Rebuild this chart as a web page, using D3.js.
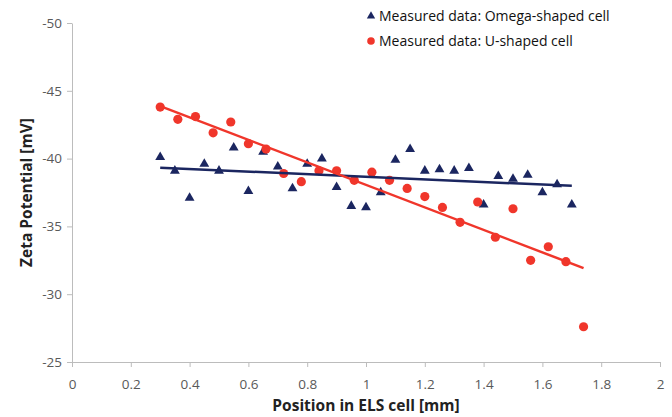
<!DOCTYPE html>
<html>
<head>
<meta charset="utf-8">
<script src="https://cdn.jsdelivr.net/npm/d3@7"></script>
<style>
  body { margin: 0; background: #fff; }
  text { font-family: "Open Sans", sans-serif; }
</style>
</head>
<body>
<div id="graph"></div>
<script>

// Omega-shaped cell
var omegaX = [0.30, 0.35, 0.40, 0.45, 0.50, 0.55, 0.60, 0.65, 0.70, 0.75,
              0.80, 0.85, 0.90, 0.95, 1.00, 1.05, 1.10, 1.15, 1.20, 1.25,
              1.30, 1.35, 1.40, 1.45, 1.50, 1.55, 1.60, 1.65, 1.70];
var omegaY = [-40.1, -39.1, -37.1, -39.6, -39.1, -40.8, -37.6, -40.5, -39.4, -37.8,
              -39.6, -40.0, -37.9, -36.5, -36.4, -37.5, -39.9, -40.7, -39.1, -39.2,
              -39.1, -39.3, -36.6, -38.7, -38.5, -38.8, -37.5, -38.1, -36.6];

// U-shaped cell
var uX = [0.30, 0.36, 0.42, 0.48, 0.54, 0.60, 0.66, 0.72, 0.78, 0.84,
          0.90, 0.96, 1.02, 1.08, 1.14, 1.20, 1.26, 1.32, 1.38, 1.44,
          1.50, 1.56, 1.62, 1.68, 1.74];
var uY = [-43.8, -42.9, -43.1, -41.9, -42.7, -41.1, -40.7, -38.9, -38.3, -39.1,
          -39.1, -38.4, -39.0, -38.4, -37.8, -37.2, -36.4, -35.3, -36.8, -34.2,
          -36.3, -32.5, -33.5, -32.4, -27.6];

var xTicks = [0, 0.2, 0.4, 0.6, 0.8, 1, 1.2, 1.4, 1.6, 1.8, 2];
var yTicks = [-50, -45, -40, -35, -30, -25];

var legendLabels = ["Measured data: Omega-shaped cell", "Measured data: U-shaped cell"];

var navy = "#1b2660",
    red = "#f0362b",
    axisGrey = "#bcbcbc",
    labelGrey = "#595959";

var width = 672, height = 417;

var x = d3.scaleLinear().domain([0, 2]).range([72, 660]);
var y = d3.scaleLinear().domain([-50, -25]).range([23, 362]);

var svg = d3.select("#graph").append("svg")
    .attr("width", width)
    .attr("height", height);

// axes
var xAxis = svg.append("g")
    .attr("transform", "translate(0," + y(-25) + ")")
    .call(d3.axisBottom(x).tickValues(xTicks).tickSize(5).tickSizeOuter(0)
      .tickFormat(function(d){ return String(+d.toFixed(1)); }));

var yAxis = svg.append("g")
    .attr("transform", "translate(" + x(0) + ",0)")
    .call(d3.axisLeft(y).tickValues(yTicks).tickSize(5).tickSizeOuter(0)
      .tickFormat(function(d){ return d; }));

[xAxis, yAxis].forEach(function(a){
  a.select(".domain").attr("stroke", axisGrey).attr("stroke-width", 1);
  a.selectAll(".tick line").attr("stroke", axisGrey);
  a.selectAll(".tick text")
    .attr("fill", labelGrey)
    .style("font-size", "13.5px")
    .style("font-family", "'Open Sans', sans-serif");
});
xAxis.selectAll(".tick text").attr("dy", "1.4em");
yAxis.selectAll(".tick text").attr("x", -10);

// axis titles
svg.append("text")
  .attr("x", x(1))
  .attr("y", 411)
  .attr("text-anchor", "middle")
  .attr("font-weight", "bold")
  .attr("font-size", "15.5px")
  .attr("fill", "#222")
  .text("Position in ELS cell [mm]");

svg.append("text")
  .attr("transform", "translate(32," + ((y(-50) + y(-25)) / 2) + ") rotate(-90)")
  .attr("text-anchor", "middle")
  .attr("font-weight", "bold")
  .attr("font-size", "15.5px")
  .attr("fill", "#222")
  .text("Zeta Potential [mV]");

// least squares trend line
function fit(xs, ys) {
  var mx = d3.mean(xs), my = d3.mean(ys);
  var sxy = 0, sxx = 0;
  xs.forEach(function(v, i){
    sxy += (v - mx) * (ys[i] - my);
    sxx += (v - mx) * (v - mx);
  });
  var b = sxy / sxx, a = my - b * mx;
  var x0 = d3.min(xs), x1 = d3.max(xs);
  return [[x0, a + b * x0], [x1, a + b * x1]];
}

var line = d3.line()
  .x(function(d){ return x(d[0]); })
  .y(function(d){ return y(d[1]); });

var omegaData = omegaX.map(function(v, i){ return [v, omegaY[i]]; });
var uData = uX.map(function(v, i){ return [v, uY[i]]; });

var tri = d3.symbol().type(d3.symbolTriangle).size(42);

// omega points
svg.append("g").selectAll("path")
  .data(omegaData)
  .enter().append("path")
  .attr("d", tri)
  .attr("transform", function(d){ return "translate(" + x(d[0]) + "," + y(d[1]) + ")"; })
  .attr("fill", navy);

// u points
svg.append("g").selectAll("circle")
  .data(uData)
  .enter().append("circle")
  .attr("cx", function(d){ return x(d[0]); })
  .attr("cy", function(d){ return y(d[1]); })
  .attr("r", 4.6)
  .attr("fill", red);

svg.append("path")
  .attr("d", line(fit(omegaX, omegaY)))
  .attr("stroke", navy).attr("stroke-width", 2.5).attr("fill", "none");

svg.append("path")
  .attr("d", line(fit(uX, uY)))
  .attr("stroke", red).attr("stroke-width", 2.5).attr("fill", "none");

// legend
var legend = svg.append("g").attr("transform", "translate(371,0)");

legend.append("path")
  .attr("d", d3.symbol().type(d3.symbolTriangle).size(30))
  .attr("transform", "translate(0,16)")
  .attr("fill", navy);
legend.append("circle")
  .attr("cx", 0).attr("cy", 41).attr("r", 3.8)
  .attr("fill", red);

legend.selectAll("text.lbl")
  .data(legendLabels)
  .enter().append("text")
  .attr("class", "lbl")
  .attr("x", 8)
  .attr("y", function(d, i){ return 21 + i * 24.5; })
  .attr("font-size", "14px")
  .attr("fill", "#111")
  .text(function(d){ return d; });

</script>
</body>
</html>
